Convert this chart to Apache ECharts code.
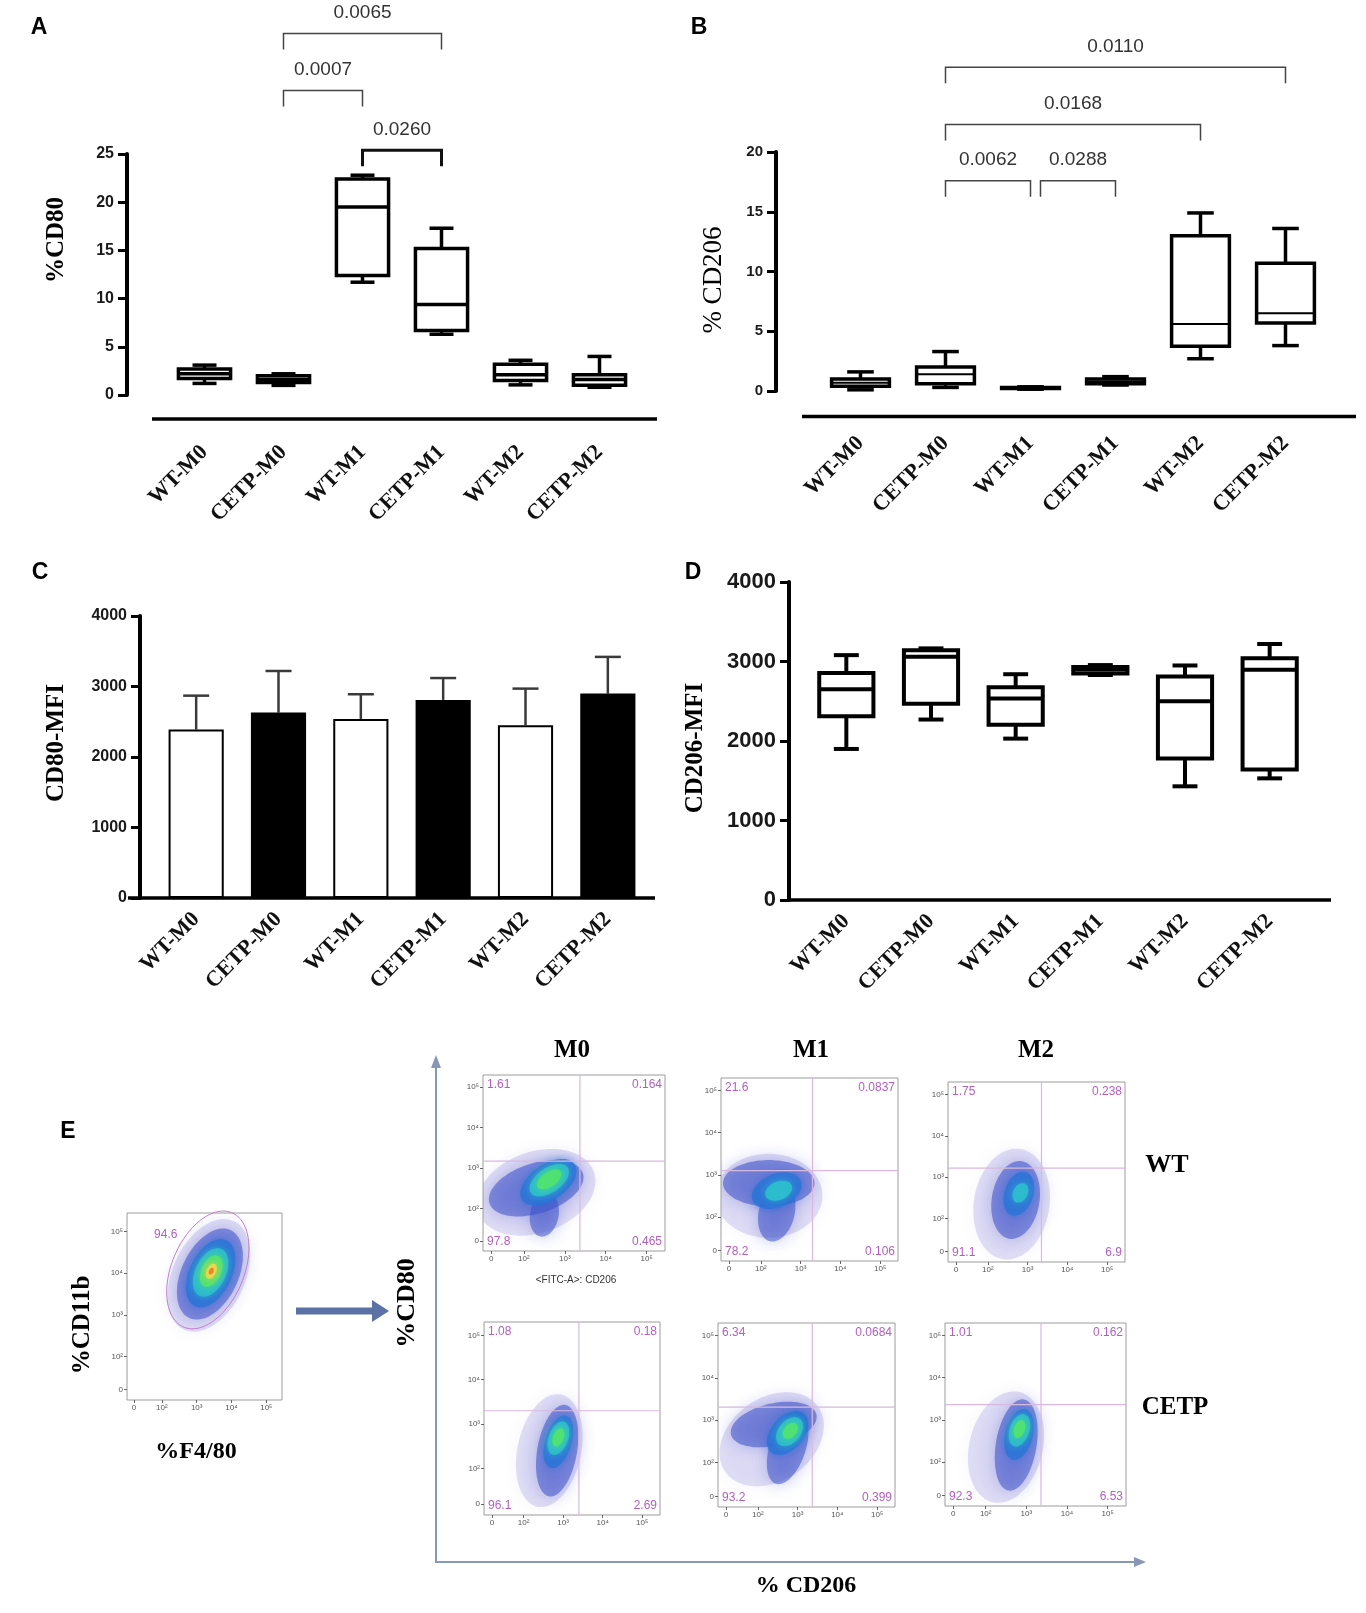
<!DOCTYPE html>
<html>
<head>
<meta charset="utf-8">
<title>CD80 / CD206 macrophage panels</title>
<script src="https://cdn.jsdelivr.net/npm/echarts@6.0.0/dist/echarts.min.js"></script>
<style>
  html, body { margin: 0; padding: 0; background: #fff; }
  #fig { width: 1366px; height: 1613px; }
</style>
</head>
<body>
<div id="fig"></div>
<script>
var CATS = ['WT-M0', 'CETP-M0', 'WT-M1', 'CETP-M1', 'WT-M2', 'CETP-M2'];

// box plots: [min, q1, median, q3, max]
var CD80_PCT = [
  [1.2, 1.7, 2.2, 2.7, 3.1],
  [1.0, 1.3, 1.6, 2.0, 2.2],
  [11.7, 12.4, 19.5, 22.4, 22.8],
  [6.3, 6.7, 9.4, 15.2, 17.3],
  [1.05, 1.5, 2.1, 3.2, 3.6],
  [0.8, 1.0, 1.6, 2.1, 4.0]
];
var CD206_PCT = [
  [0.1, 0.4, 0.7, 1.0, 1.6],
  [0.3, 0.6, 1.4, 2.0, 3.3],
  [0.15, 0.2, 0.25, 0.3, 0.35],
  [0.5, 0.6, 0.8, 1.0, 1.2],
  [2.7, 3.75, 5.6, 13.0, 14.9],
  [3.8, 5.7, 6.5, 10.7, 13.6]
];
var CD206_MFI = [
  [1900, 2310, 2650, 2855, 3080],
  [2270, 2470, 3060, 3140, 3165],
  [2030, 2205, 2535, 2675, 2840],
  [2830, 2850, 2900, 2930, 2955],
  [1430, 1780, 2500, 2810, 2950],
  [1530, 1640, 2895, 3040, 3220]
];
// bar chart: mean and mean + SD
var CD80_MFI_MEAN = [2390, 2630, 2540, 2810, 2450, 2900];
var CD80_MFI_UPPER = [2870, 3220, 2890, 3120, 2970, 3420];

// significance brackets: [from, to, level, p]
var CD80_TESTS = [[1, 3, 37.5, '0.0065'], [1, 2, 31.6, '0.0007'], [2, 3, 25.4, '0.0260']];
var CD206_TESTS = [[1, 5, 27.1, '0.0110'], [1, 4, 22.3, '0.0168'], [1, 2, 17.6, '0.0062'], [2, 3, 17.6, '0.0288']];

// flow cytometry (log10 units), ticks of the biexponential axis
var FLOW_TICKS = [1.2, 2, 3, 4, 5];
var FLOW_TICK_LABELS = ['0', '10²', '10³', '10⁴', '10⁵'];
var FLOW_COLS = ['M0', 'M1', 'M2'];
var FLOW_ROWS = ['WT', 'CETP'];
// quadrant gates [CD206, CD80] and percentages [UL, UR, LL, LR]
var FLOW_GATES = [[3.37, 3.17], [3.3, 3.1], [3.35, 3.22], [3.4, 3.3], [3.37, 3.31], [3.36, 3.36]];
var FLOW_QUADS = [
  [1.61, 0.164, 97.8, 0.465],
  [21.6, 0.0837, 78.2, 0.106],
  [1.75, 0.238, 91.1, 6.9],
  [1.08, 0.18, 96.1, 2.69],
  [6.34, 0.0684, 93.2, 0.399],
  [1.01, 0.162, 92.3, 6.53]
];
// density contours: [cx, cy, semi-axis a, semi-axis b, angle deg, level]
var BLOBS_WT_M0 = [
  [2.3, 2.4, 1.5, 1.0, 20, 0],
  [2.3, 2.5, 1.2, 0.62, 18, 1],
  [2.5, 1.85, 0.55, 0.35, 80, 1],
  [2.6, 2.65, 0.78, 0.44, 35, 2],
  [2.62, 2.7, 0.55, 0.3, 35, 3],
  [2.62, 2.72, 0.34, 0.18, 35, 4]
];
var BLOBS_WT_M1 = [
  [2.2, 2.5, 1.35, 1.0, 0, 0],
  [2.2, 2.8, 1.15, 0.55, 0, 1],
  [2.4, 2.1, 0.7, 0.45, 75, 1],
  [2.4, 2.62, 0.65, 0.4, 20, 2],
  [2.45, 2.62, 0.35, 0.22, 20, 3]
];
var BLOBS_WT_M2 = [
  [2.6, 2.35, 1.35, 0.95, 80, 0],
  [2.7, 2.45, 0.95, 0.6, 80, 1],
  [2.78, 2.6, 0.55, 0.36, 70, 2],
  [2.82, 2.62, 0.25, 0.18, 60, 3]
];
var BLOBS_CETP_M0 = [
  [2.65, 2.4, 1.3, 0.8, 75, 0],
  [2.85, 2.4, 1.05, 0.5, 78, 1],
  [2.88, 2.6, 0.62, 0.33, 70, 2],
  [2.88, 2.68, 0.4, 0.24, 65, 3],
  [2.88, 2.7, 0.22, 0.13, 65, 4]
];
var BLOBS_CETP_M1 = [
  [2.35, 2.55, 1.4, 1.0, 30, 0],
  [2.4, 2.9, 1.1, 0.5, 12, 1],
  [2.75, 2.35, 0.9, 0.45, 70, 1],
  [2.75, 2.7, 0.62, 0.4, 45, 2],
  [2.8, 2.73, 0.4, 0.27, 45, 3],
  [2.82, 2.75, 0.22, 0.15, 45, 4]
];
var BLOBS_CETP_M2 = [
  [2.5, 2.35, 1.35, 0.9, 75, 0],
  [2.75, 2.4, 1.1, 0.5, 80, 1],
  [2.82, 2.65, 0.62, 0.34, 75, 2],
  [2.83, 2.75, 0.4, 0.24, 70, 3],
  [2.83, 2.78, 0.22, 0.13, 70, 4]
];
// F4/80 vs CD11b pre-gate
var BLOBS_F480 = [
  [3.35, 3.95, 1.5, 1.0, 55, 0],
  [3.38, 3.98, 1.22, 0.78, 55, 1],
  [3.4, 4.0, 0.92, 0.58, 55, 2],
  [3.4, 4.02, 0.65, 0.42, 55, 3],
  [3.42, 4.05, 0.42, 0.27, 55, 4],
  [3.42, 4.05, 0.2, 0.13, 55, 5],
  [3.42, 4.05, 0.09, 0.06, 55, 6]
];
var GATE_F480 = [3.32, 4.08, 1.55, 1.0, 58, 94.6];

var SANS = '"Liberation Sans", Arial, sans-serif';
var SERIF = '"Liberation Serif", "Times New Roman", serif';
var LEVEL_COLORS = ['rgba(160,150,225,0.3)', 'rgba(60,80,200,0.55)', 'rgba(40,115,215,0.75)',
  'rgba(45,190,205,0.9)', 'rgba(80,225,115,1)', 'rgba(230,228,80,1)', 'rgba(238,130,50,1)'];
var QUAD_COLOR = '#b45ec2';
var THICK_BRACKETS = ['0.0260'];

// layout, px
var GRID_A = {left: 165, top: 154, width: 474, height: 241};
var GRID_B = {left: 818, top: 152, width: 510, height: 239};
var GRID_C = {left: 155, top: 616, width: 494, height: 282};
var GRID_D = {left: 804, top: 582, width: 508, height: 318};
var FLOW_BOXES = [
  {left: 483, top: 1075, width: 182, height: 176},
  {left: 721, top: 1078, width: 177, height: 183},
  {left: 948, top: 1082, width: 177, height: 180},
  {left: 484, top: 1322, width: 176, height: 193},
  {left: 718, top: 1323, width: 177, height: 184},
  {left: 945, top: 1323, width: 181, height: 183}
];
var F480_BOX = {left: 127, top: 1213, width: 155, height: 187};

function boxRenderer(widthFrac, lineW, medW) {
  return function (params, api) {
    var i = api.value(0);
    var x = api.coord([i, 0])[0];
    var bw = api.size([1, 0])[0] * widthFrac;
    var cap = bw * 0.46;
    var yMin = api.coord([i, api.value(1)])[1];
    var yQ1 = api.coord([i, api.value(2)])[1];
    var yMed = api.coord([i, api.value(3)])[1];
    var yQ3 = api.coord([i, api.value(4)])[1];
    var yMax = api.coord([i, api.value(5)])[1];
    var st = {stroke: '#000', lineWidth: lineW, fill: null};
    return {
      type: 'group',
      children: [
        {type: 'line', shape: {x1: x, y1: yQ3, x2: x, y2: yMax}, style: st},
        {type: 'line', shape: {x1: x, y1: yQ1, x2: x, y2: yMin}, style: st},
        {type: 'line', shape: {x1: x - cap / 2, y1: yMax, x2: x + cap / 2, y2: yMax}, style: st},
        {type: 'line', shape: {x1: x - cap / 2, y1: yMin, x2: x + cap / 2, y2: yMin}, style: st},
        {type: 'rect', shape: {x: x - bw / 2, y: yQ3, width: bw, height: yQ1 - yQ3},
          style: {stroke: '#000', lineWidth: lineW, fill: '#fff'}},
        {type: 'line', shape: {x1: x - bw / 2, y1: yMed, x2: x + bw / 2, y2: yMed},
          style: {stroke: '#000', lineWidth: medW}}
      ]
    };
  };
}

function bracketRenderer(tests) {
  return function (params, api) {
    var d = tests[params.dataIndex];
    var a = api.coord([d[0], d[2]]);
    var b = api.coord([d[1], d[2]]);
    var nudge = tests.some(function (o) {
      return o !== d && o[1] === d[0] && o[2] === d[2];
    }) ? 10 : 0;
    var thick = THICK_BRACKETS.indexOf(d[3]) >= 0;
    var x1 = a[0] + nudge;
    var x2 = b[0];
    var drop = 16;
    return {
      type: 'group',
      children: [
        {type: 'polyline', shape: {points: [[x1, a[1] + drop], [x1, a[1]], [x2, b[1]], [x2, b[1] + drop]]},
          style: {stroke: thick ? '#111' : '#444', lineWidth: thick ? 3 : 1.5, fill: null}},
        {type: 'text', x: (x1 + x2) / 2, y: a[1] - 11,
          style: {text: d[3], fill: '#333', fontSize: 19, fontFamily: SANS, align: 'center', verticalAlign: 'bottom'}}
      ]
    };
  };
}

function ellipsePoints(api, cx, cy, a, b, deg) {
  var th = deg * Math.PI / 180;
  var pts = [];
  for (var k = 0; k < 60; k++) {
    var t = k / 60 * 2 * Math.PI;
    var dx = a * Math.cos(t);
    var dy = b * Math.sin(t);
    pts.push(api.coord([cx + dx * Math.cos(th) - dy * Math.sin(th), cy + dx * Math.sin(th) + dy * Math.cos(th)]));
  }
  return pts;
}

function renderBlob(params, api) {
  var lv = api.value(5);
  var pts = ellipsePoints(api, api.value(0), api.value(1), api.value(2), api.value(3), api.value(4));
  return {
    type: 'polygon',
    shape: {points: pts, smooth: 0.3},
    style: {fill: LEVEL_COLORS[lv], shadowBlur: lv <= 1 ? 16 : 9, shadowColor: LEVEL_COLORS[lv]}
  };
}

function renderQuad(params, api) {
  var cs = params.coordSys;
  var p = api.coord([api.value(0), api.value(1)]);
  function txt(v, x, y, align, va) {
    return {type: 'text', x: x, y: y,
      style: {text: String(v), fill: QUAD_COLOR, fontSize: 12, fontFamily: SANS, align: align, verticalAlign: va}};
  }
  var gateSt = {stroke: '#d8b8de', lineWidth: 1.2};
  return {
    type: 'group',
    children: [
      {type: 'line', shape: {x1: p[0], y1: cs.y, x2: p[0], y2: cs.y + cs.height}, style: gateSt},
      {type: 'line', shape: {x1: cs.x, y1: p[1], x2: cs.x + cs.width, y2: p[1]}, style: gateSt},
      txt(api.value(2), cs.x + 4, cs.y + 4, 'left', 'top'),
      txt(api.value(3), cs.x + cs.width - 3, cs.y + 4, 'right', 'top'),
      txt(api.value(4), cs.x + 4, cs.y + cs.height - 3, 'left', 'bottom'),
      txt(api.value(5), cs.x + cs.width - 3, cs.y + cs.height - 3, 'right', 'bottom')
    ]
  };
}

function renderGate(params, api) {
  var pts = ellipsePoints(api, api.value(0), api.value(1), api.value(2), api.value(3), api.value(4));
  var top = pts[14];
  return {
    type: 'group',
    children: [
      {type: 'polygon', shape: {points: pts, smooth: 0.3}, style: {fill: null, stroke: '#c27ccc', lineWidth: 1}},
      {type: 'text', x: top[0] - 4, y: top[1] - 8,
        style: {text: String(api.value(5)), fill: QUAD_COLOR, fontSize: 12, fontFamily: SANS, align: 'right', verticalAlign: 'middle'}}
    ]
  };
}

function catAxis(gi, offset, margin) {
  return {
    gridIndex: gi, type: 'category', data: CATS, offset: offset,
    axisLine: {show: false}, axisTick: {show: false},
    axisLabel: {interval: 0, rotate: 45, margin: margin, fontFamily: SERIF, fontWeight: 'bold', fontSize: 22, color: '#111'}
  };
}

function valAxis(gi, max, interval, offset, fontSize) {
  return {
    gridIndex: gi, type: 'value', min: 0, max: max, interval: interval, offset: offset,
    axisLine: {show: true, lineStyle: {color: '#000', width: 4}},
    axisTick: {show: true, length: 9, lineStyle: {color: '#000', width: 3}},
    axisLabel: {margin: 13, fontFamily: SANS, fontWeight: 'bold', fontSize: fontSize, color: '#1a1a1a',
      formatter: function (v) { return String(v); }},
    splitLine: {show: false}
  };
}

function flowTick(v) {
  var k = FLOW_TICKS.indexOf(v);
  return k >= 0 ? FLOW_TICK_LABELS[k] : '';
}

function flowAxis(gi, dim, max) {
  return {
    gridIndex: gi, type: 'value', min: dim === 'x' ? 1 : 0.95, max: max,
    axisLine: {show: false},
    axisTick: {show: true, customValues: FLOW_TICKS, length: 3, lineStyle: {color: '#666'}},
    axisLabel: {customValues: FLOW_TICKS, formatter: flowTick, fontSize: 8, fontFamily: SANS, color: '#555', margin: 4},
    splitLine: {show: false}
  };
}

function boxData(rows) {
  return rows.map(function (r, i) { return [i].concat(r); });
}

var grids = [GRID_A, GRID_B, GRID_C, GRID_D];
var xAxes = [catAxis(0, 24, 30), catAxis(1, 25, 24), catAxis(2, 0, 18), catAxis(3, 0, 18)];
var yAxes = [valAxis(0, 25, 5, 38, 16), valAxis(1, 20, 5, 42, 15), valAxis(2, 4000, 1000, 15, 16), valAxis(3, 4000, 1000, 15, 22)];

var series = [
  {type: 'custom', xAxisIndex: 0, yAxisIndex: 0, renderItem: boxRenderer(0.66, 3.5, 3.5),
    encode: {x: 0, y: [1, 2, 3, 4, 5]}, data: boxData(CD80_PCT), z: 3},
  {type: 'custom', xAxisIndex: 0, yAxisIndex: 0, renderItem: bracketRenderer(CD80_TESTS), clip: false,
    encode: {x: 0, y: 2}, data: CD80_TESTS.map(function (d) { return [d[0], d[1], d[2]]; })},
  {type: 'custom', xAxisIndex: 1, yAxisIndex: 1, renderItem: boxRenderer(0.68, 3.5, 2),
    encode: {x: 0, y: [1, 2, 3, 4, 5]}, data: boxData(CD206_PCT), z: 3},
  {type: 'custom', xAxisIndex: 1, yAxisIndex: 1, renderItem: bracketRenderer(CD206_TESTS), clip: false,
    encode: {x: 0, y: 2}, data: CD206_TESTS.map(function (d) { return [d[0], d[1], d[2]]; })},
  {type: 'bar', xAxisIndex: 2, yAxisIndex: 2, barWidth: '67%',
    data: CD80_MFI_MEAN.map(function (v, i) {
      return {value: v, itemStyle: {color: i % 2 ? '#000' : '#fff', borderColor: '#000', borderWidth: 2}};
    })},
  {type: 'custom', xAxisIndex: 2, yAxisIndex: 2, z: 1,
    encode: {x: 0, y: [1, 2]},
    data: CD80_MFI_MEAN.map(function (v, i) { return [i, v, CD80_MFI_UPPER[i]]; }),
    renderItem: function (params, api) {
      var lo = api.coord([api.value(0), api.value(1)]);
      var hi = api.coord([api.value(0), api.value(2)]);
      var st = {stroke: '#3a3a3a', lineWidth: 2.5};
      return {type: 'group', children: [
        {type: 'line', shape: {x1: lo[0], y1: lo[1], x2: hi[0], y2: hi[1]}, style: st},
        {type: 'line', shape: {x1: hi[0] - 13, y1: hi[1], x2: hi[0] + 13, y2: hi[1]}, style: st}
      ]};
    }},
  {type: 'custom', xAxisIndex: 3, yAxisIndex: 3, renderItem: boxRenderer(0.64, 4, 4),
    encode: {x: 0, y: [1, 2, 3, 4, 5]}, data: boxData(CD206_MFI), z: 3}
];

// flow cytometry panels
var blobSets = [BLOBS_WT_M0, BLOBS_WT_M1, BLOBS_WT_M2, BLOBS_CETP_M0, BLOBS_CETP_M1, BLOBS_CETP_M2];
FLOW_BOXES.forEach(function (box, k) {
  var gi = grids.length;
  grids.push({left: box.left, top: box.top, width: box.width, height: box.height,
    show: true, borderColor: '#9c9c9c', borderWidth: 1, backgroundColor: '#fff'});
  xAxes.push(flowAxis(gi, 'x', 5.45));
  yAxes.push(flowAxis(gi, 'y', 5.3));
  series.push({type: 'custom', xAxisIndex: gi, yAxisIndex: gi, clip: true, renderItem: renderBlob,
    encode: {x: 0, y: 1}, data: blobSets[k]});
  series.push({type: 'custom', xAxisIndex: gi, yAxisIndex: gi, clip: false, renderItem: renderQuad, z: 4,
    encode: {x: 0, y: 1}, data: [FLOW_GATES[k].concat(FLOW_QUADS[k])]});
});
var fi = grids.length;
grids.push({left: F480_BOX.left, top: F480_BOX.top, width: F480_BOX.width, height: F480_BOX.height,
  show: true, borderColor: '#9c9c9c', borderWidth: 1, backgroundColor: '#fff'});
xAxes.push(flowAxis(fi, 'x', 5.45));
yAxes.push(flowAxis(fi, 'y', 5.45));
series.push({type: 'custom', xAxisIndex: fi, yAxisIndex: fi, clip: true, renderItem: renderBlob,
  encode: {x: 0, y: 1}, data: BLOBS_F480});
series.push({type: 'custom', xAxisIndex: fi, yAxisIndex: fi, clip: false, renderItem: renderGate, z: 4,
  encode: {x: 0, y: 1}, data: [GATE_F480]});

function label(text, x, y, size, opts) {
  opts = opts || {};
  return {
    type: 'text', x: x, y: y, rotation: opts.rot || 0, z: 10,
    style: {text: text, fontSize: size, fontFamily: opts.family || SANS, fontWeight: opts.weight || 'bold',
      fill: opts.color || '#000', align: 'center', verticalAlign: 'middle'}
  };
}
function hline(x1, x2, y, w, color) {
  return {type: 'line', z: 10, shape: {x1: x1, y1: y, x2: x2, y2: y}, style: {stroke: color || '#000', lineWidth: w}};
}

var V = Math.PI / 2;
var graphic = [
  label('A', 39, 28, 23), label('B', 699, 28, 23), label('C', 40, 573, 23), label('D', 693, 573, 23), label('E', 68, 1132, 23),
  label('%CD80', 57, 240, 25, {rot: V, family: SERIF}),
  label('% CD206', 714, 280, 27, {rot: V, family: SERIF, weight: 'normal'}),
  label('CD80-MFI', 57, 743, 25, {rot: V, family: SERIF}),
  label('CD206-MFI', 696, 748, 25, {rot: V, family: SERIF}),
  hline(152, 657, 419, 3.5),
  hline(802, 1356, 416.5, 3.5),
  hline(128, 655, 898, 3.5),
  hline(789, 1331, 900, 3.5),
  // panel E decorations
  label('%CD11b', 83, 1325, 25, {rot: V, family: SERIF}),
  label('%F4/80', 196, 1452, 24, {family: SERIF}),
  label('%CD80', 407, 1303, 26, {rot: V, family: SERIF}),
  label('% CD206', 806, 1586, 24, {family: SERIF}),
  label('<FITC-A>: CD206', 576, 1280, 10, {weight: 'normal', color: '#333'}),
  {type: 'line', z: 10, shape: {x1: 436, y1: 1563, x2: 436, y2: 1066}, style: {stroke: '#8797b4', lineWidth: 2}},
  {type: 'polygon', z: 10, shape: {points: [[431, 1068], [436, 1055], [441, 1068]]}, style: {fill: '#8797b4'}},
  {type: 'line', z: 10, shape: {x1: 436, y1: 1562, x2: 1136, y2: 1562}, style: {stroke: '#8797b4', lineWidth: 2}},
  {type: 'polygon', z: 10, shape: {points: [[1134, 1557], [1146, 1562], [1134, 1567]]}, style: {fill: '#8797b4'}},
  {type: 'line', z: 10, shape: {x1: 296, y1: 1311, x2: 374, y2: 1311}, style: {stroke: '#5a72a6', lineWidth: 7}},
  {type: 'polygon', z: 10, shape: {points: [[372, 1300], [389, 1311], [372, 1322]]}, style: {fill: '#5a72a6'}}
];
var colX = [572, 811, 1036];
FLOW_COLS.forEach(function (c, k) {
  graphic.push(label(c, colX[k], 1051, 25, {family: SERIF}));
});
graphic.push(label(FLOW_ROWS[0], 1167, 1165, 26, {family: SERIF}));
graphic.push(label(FLOW_ROWS[1], 1175, 1408, 25, {family: SERIF}));

var chart = echarts.init(document.getElementById('fig'));
chart.setOption({
  backgroundColor: '#fff',
  animation: false,
  grid: grids,
  xAxis: xAxes,
  yAxis: yAxes,
  series: series,
  graphic: graphic
});
</script>
</body>
</html>
